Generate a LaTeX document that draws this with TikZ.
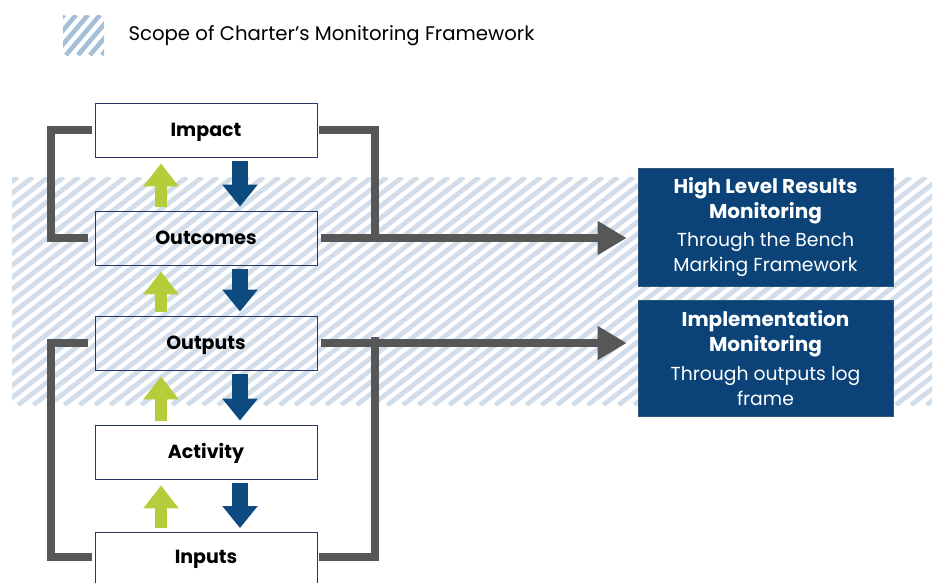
\documentclass[tikz,border=0pt]{standalone}
\usepackage{fontspec}
\setmainfont{Poppins}
\usetikzlibrary{arrows.meta,calc}
\definecolor{bandc}{HTML}{D1DDE9}
\definecolor{legc}{HTML}{A5BFD7}
\definecolor{navy}{HTML}{0B4378}
\definecolor{bluearr}{HTML}{0D4A80}
\definecolor{greenarr}{HTML}{B5CD3A}
\definecolor{grayln}{HTML}{575757}
\definecolor{boxbd}{HTML}{2A3565}
\tikzset{
  levelbox/.style={draw=boxbd, line width=0.8pt, minimum width=222pt, minimum height=54pt, inner sep=0pt, text height=13.3pt, text depth=0pt, font=\fontsize{19}{22}\selectfont\bfseries},
  monbox/.style={fill=navy, draw=navy!70!gray, line width=0.6pt, minimum width=255pt, inner sep=0pt, text=white, align=center, font=\fontsize{18.8}{24.5}\selectfont},
  uparr/.style={draw=greenarr, line width=12pt, -{Triangle[width=34pt,length=23pt]}},
  downarr/.style={draw=bluearr, line width=16pt, -{Triangle[width=34pt,length=22pt]}},
  bracket/.style={draw=grayln, line width=8pt},
  bigarr/.style={draw=grayln, line width=8pt, -{Triangle[width=32pt,length=29pt]}},
  hatch/.style={draw=bandc, line width=4.8pt},
  leghatch/.style={draw=legc, line width=4.6pt},
}
\begin{document}
\begin{tikzpicture}[x=1pt,y=-1pt]
\useasboundingbox (0,0) rectangle (937,582);
% hatched band
\begin{scope}
  \clip (12,177) rectangle (932,405);
  \foreach \i in {0,...,85} { \draw[hatch] ({-290+\i*15.4},405) -- ++(292,-228); }
\end{scope}
% legend
\begin{scope}
  \clip (63,15) rectangle (104,55);
  \foreach \i in {0,...,8} { \draw[leghatch] ({30+\i*12},55) -- ++(34,-40); }
\end{scope}
\node[anchor=west, font=\fontsize{19.7}{22}\selectfont] (legtext) at (125,36) {Scope of Charter’s Monitoring Framework};
% level boxes
\node[levelbox, fill=white] (impact) at (206,130) {Impact};
\node[levelbox] (outcomes) at (206,238) {Outcomes};
\node[levelbox] (outputs) at (206,343) {Outputs};
\node[levelbox, fill=white] (activity) at (206,452) {Activity};
\node[levelbox, fill=white, minimum height=60pt, anchor=north] (inputs) at (206,532) {};
\node[font=\fontsize{19}{22}\selectfont\bfseries, text height=13.3pt, text depth=0pt, inner sep=0pt] (inputstext) at (206,557) {Inputs};
% vertical arrows
\foreach \lo/\hi in {outcomes/impact, outputs/outcomes, activity/outputs, inputs/activity} {
  \draw[uparr] ($(\lo.north)+(-45,-4)$) -- ($(\hi.south)+(-45,6)$);
  \draw[downarr] ($(\hi.south)+(34,4)$) -- ($(\lo.north)+(34,-4)$);
}
% right boxes
\node[monbox, minimum height=118pt] (hlr) at (765.5,227) {{\fontsize{20}{24.5}\selectfont\bfseries High Level Results}\\{\fontsize{20}{24.5}\selectfont\bfseries Monitoring}\\[4pt]Through the Bench\\Marking Framework};
\node[monbox, minimum height=116pt] (impl) at (765.5,358) {{\fontsize{20}{24.5}\selectfont\bfseries Implementation}\\{\fontsize{20}{24.5}\selectfont\bfseries Monitoring}\\[5pt]Through outputs log\\frame};
% brackets
\draw[bracket] ([xshift=-3pt]impact.west) -- ++(-41,0) |- ([xshift=-7pt]outcomes.west);
\draw[bracket] ([xshift=2pt]impact.east) -- ++(55.5,0) -- ++(0,112);
\draw[bigarr] ([xshift=4pt]outcomes.east) -- ([xshift=-11pt]hlr.west |- outcomes.east);
\draw[bracket] ([xshift=-7pt]outputs.west) -- ++(-37,0) |- ([xshift=-3pt]inputstext.west -| inputs.west);
\draw[bracket] ([xshift=2pt]inputstext.east -| inputs.east) -- ++(55.5,0) -- ++(0,-220);
\draw[bigarr] ([xshift=4pt]outputs.east) -- ([xshift=-11pt]impl.west |- outputs.east);
\end{tikzpicture}
\end{document}
